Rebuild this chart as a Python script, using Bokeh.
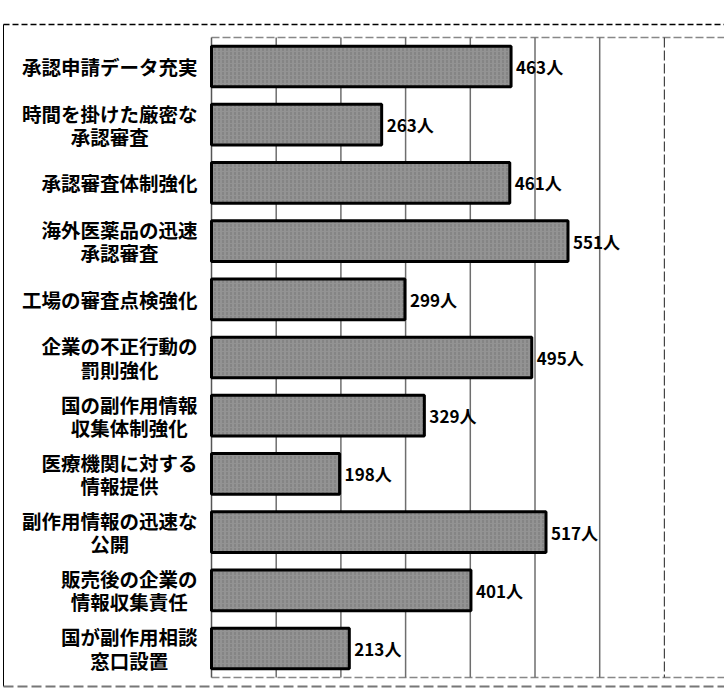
from bokeh.plotting import figure
from bokeh.models import Range1d
from bokeh.embed import file_html
from bokeh.resources import INLINE
from bokeh.core.properties import value

# ---- data ----
labels = [
    ["承認申請データ充実"],
    ["時間を掛けた厳密な", "承認審査"],
    ["承認審査体制強化"],
    ["海外医薬品の迅速", "承認審査"],
    ["工場の審査点検強化"],
    ["企業の不正行動の", "罰則強化"],
    ["国の副作用情報", "収集体制強化"],
    ["医療機関に対する", "情報提供"],
    ["副作用情報の迅速な", "公開"],
    ["販売後の企業の", "情報収集責任"],
    ["国が副作用相談", "窓口設置"],
]
counts = [463, 263, 461, 551, 299, 495, 329, 198, 517, 401, 213]
unit = "人"
grid_ticks = [100, 200, 300, 400, 500, 600]
outer_tick = 700

# ---- layout (pixels) ----
W, H = 724, 689
X0_PX = 211          # pixel of value 0
PX_PER_UNIT = 0.647
Y0_PX = 66           # pixel centre of first category
ROW_PX = 58.2

def xd(px):
    return (px - X0_PX) / PX_PER_UNIT

def yd(px):
    return (px - Y0_PX) / ROW_PX

p = figure(width=W, height=H, output_backend="svg", toolbar_location=None,
           x_range=Range1d(xd(0), xd(W)), y_range=Range1d(yd(H), yd(0)),
           min_border=0, outline_line_color=None)
p.xaxis.visible = False
p.yaxis.visible = False
p.xgrid.visible = False
p.ygrid.visible = False
p.background_fill_color = "white"
p.border_fill_color = "white"

n = len(counts)
ys = list(range(n))
grid_top, grid_bot = -0.5, n - 0.5

# outer frame
p.segment(x0=[xd(3)], y0=[yd(24)], x1=[xd(W)], y1=[yd(24)],
          line_color="black", line_width=1.5, line_dash="6 3")
p.segment(x0=[xd(3)], y0=[yd(24)], x1=[xd(3)], y1=[yd(686)],
          line_color="black", line_width=1)
p.segment(x0=[xd(3)], y0=[yd(686)], x1=[xd(W)], y1=[yd(686)],
          line_color="#777777", line_width=2, line_dash="10 4")

# plot area lines
p.segment(x0=[0], y0=[grid_top], x1=[xd(W)], y1=[grid_top],
          line_color="#888888", line_width=1.5, line_dash="8 3")
p.segment(x0=[0], y0=[grid_bot], x1=[xd(W)], y1=[grid_bot],
          line_color="#888888", line_width=1.5, line_dash="8 3")
p.segment(x0=[0], y0=[grid_top], x1=[0], y1=[grid_bot],
          line_color="#555555", line_width=1.5)
p.segment(x0=grid_ticks, y0=[grid_top] * len(grid_ticks),
          x1=grid_ticks, y1=[grid_bot] * len(grid_ticks),
          line_color="#6e6e6e", line_width=1.5)
p.segment(x0=[outer_tick], y0=[grid_top], x1=[outer_tick], y1=[grid_bot],
          line_color="#444444", line_width=1.2, line_dash="10 3")

# bars
p.hbar(y=ys, left=0, right=counts, height=0.70,
       fill_color="#939393", line_color="black", line_width=3,
       hatch_pattern=":", hatch_color="#5a5a5a", hatch_scale=4,
       hatch_weight=1, hatch_alpha=0.5)

# value labels
p.text(x=[c + 5 / PX_PER_UNIT for c in counts], y=ys,
       text=[f"{c}{unit}" for c in counts],
       text_font=value("Noto Sans CJK JP"), text_font_style="bold",
       text_font_size="17px", text_align="left", text_baseline="middle",
       text_color="black")

# category labels
FS = 19.5
RIGHT_PX = 197
lx, ly, lt = [], [], []
for i, lines in enumerate(labels):
    maxlen = max(len(s) for s in lines)
    cx = xd(RIGHT_PX - maxlen * FS / 2)
    if len(lines) == 1:
        offs = [0.0]
    else:
        offs = [-0.2, 0.2]
    for s, o in zip(lines, offs):
        lx.append(cx)
        ly.append(i + o)
        lt.append(s)
p.text(x=lx, y=ly, text=lt, text_font=value("Noto Sans CJK JP"),
       text_font_style="bold", text_font_size=f"{FS}px",
       text_align="center", text_baseline="middle", text_color="black")

open("out.html", "w").write(file_html(p, INLINE))
